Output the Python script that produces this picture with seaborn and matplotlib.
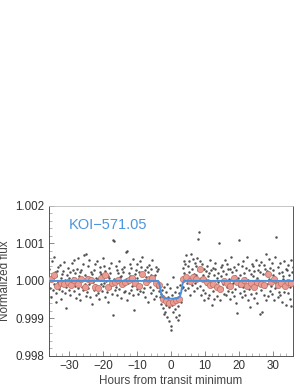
import numpy as np
import pandas as pd
import matplotlib
matplotlib.use("Agg")
import matplotlib.pyplot as plt
import seaborn as sns
from matplotlib.ticker import MultipleLocator, FormatStrFormatter


# folded light curve, hours from transit minimum vs flux deviation (ppm)
gray_hours = [
    -35.9, -35.7, -35.55, -35.4, -35.2, -35.05, -34.85, -34.7, -34.5, -34.35, -34.2, -34.05,
    -33.95, -33.8, -33.6, -33.45, -33.25, -33.1, -32.9, -32.7, -32.55, -32.35, -32.2, -32.05,
    -31.85, -31.7, -31.5, -31.3, -31.15, -31.0, -30.9, -30.75, -30.55, -30.4, -30.2, -30.05,
    -29.85, -29.65, -29.5, -29.3, -29.15, -29.0, -28.9, -28.7, -28.55, -28.4, -28.2, -28.05,
    -27.85, -27.7, -27.5, -27.35, -27.15, -27.0, -26.9, -26.7, -26.55, -26.4, -26.2, -26.05,
    -25.85, -25.7, -25.5, -25.3, -25.15, -25.0, -24.9, -24.75, -24.55, -24.4, -24.2, -24.05,
    -23.9, -23.7, -23.55, -23.35, -23.2, -23.05, -22.85, -22.7, -22.5, -22.35, -22.15, -22.0,
    -21.9, -21.75, -21.55, -21.4, -21.2, -21.05, -20.85, -20.7, -20.5, -20.35, -20.15, -20.0,
    -19.9, -19.7, -19.55, -19.4, -19.2, -19.05, -18.85, -18.7, -18.5, -18.35, -18.15, -18.0,
    -17.9, -17.75, -17.55, -17.4, -17.2, -17.05, -16.85, -16.7, -16.5, -16.35, -16.15, -16.0,
    -15.9, -15.7, -15.55, -15.35, -15.2, -15.05, -14.85, -14.7, -14.5, -14.35, -14.15, -14.0,
    -13.9, -13.75, -13.55, -13.4, -13.2, -13.05, -12.85, -12.7, -12.5, -12.35, -12.15, -12.0,
    -11.9, -11.7, -11.55, -11.35, -11.2, -11.05, -10.85, -10.7, -10.5, -10.35, -10.15, -10.0,
    -9.9, -9.75, -9.55, -9.4, -9.2, -9.05, -8.85, -8.7, -8.5, -8.35, -8.15, -8.0,
    -7.9, -7.7, -7.55, -7.35, -7.2, -7.05, -6.85, -6.7, -6.5, -6.35, -6.15, -6.0,
    -5.9, -5.75, -5.55, -5.4, -5.2, -5.05, -4.85, -4.7, -4.5, -4.35, -4.15, -4.0,
    -3.9, -3.75, -3.55, -3.4, -3.2, -3.05, -2.85, -2.7, -2.5, -2.35, -2.15, -2.0,
    -1.9, -1.75, -1.55, -1.4, -1.2, -1.05, -0.85, -0.7, -0.5, -0.35, -0.15, -0.05,
    0.05, 0.2, 0.35, 0.55, 0.7, 0.9, 1.1, 1.25, 1.45, 1.6, 1.8, 1.95,
    2.1, 2.3, 2.45, 2.6, 2.8, 2.95, 3.1, 3.3, 3.45, 3.65, 3.8, 3.95,
    4.1, 4.25, 4.45, 4.6, 4.8, 4.95, 5.1, 5.3, 5.45, 5.6, 5.8, 5.95,
    6.1, 6.25, 6.45, 6.65, 6.8, 6.95, 7.1, 7.3, 7.45, 7.6, 7.8, 7.95,
    8.1, 8.25, 8.45, 8.6, 8.8, 8.95, 9.1, 9.3, 9.45, 9.65, 9.8, 9.95,
    10.1, 10.25, 10.45, 10.6, 10.8, 10.95, 11.1, 11.3, 11.45, 11.65, 11.8, 11.95,
    12.1, 12.25, 12.45, 12.6, 12.8, 12.95, 13.1, 13.3, 13.45, 13.65, 13.8, 13.95,
    14.1, 14.25, 14.45, 14.6, 14.8, 14.95, 15.1, 15.3, 15.45, 15.65, 15.8, 15.95,
    16.1, 16.25, 16.45, 16.6, 16.8, 16.95, 17.1, 17.3, 17.45, 17.65, 17.8, 17.95,
    18.1, 18.25, 18.45, 18.6, 18.8, 18.95, 19.1, 19.3, 19.45, 19.65, 19.8, 19.95,
    20.1, 20.25, 20.45, 20.6, 20.8, 20.95, 21.1, 21.3, 21.45, 21.65, 21.8, 21.95,
    22.1, 22.25, 22.45, 22.6, 22.8, 22.95, 23.1, 23.3, 23.45, 23.65, 23.8, 23.95,
    24.1, 24.25, 24.45, 24.6, 24.8, 24.95, 25.1, 25.3, 25.45, 25.65, 25.8, 25.95,
    26.1, 26.25, 26.45, 26.6, 26.8, 26.95, 27.1, 27.3, 27.45, 27.65, 27.8, 27.95,
    28.1, 28.25, 28.45, 28.6, 28.8, 28.95, 29.1, 29.3, 29.45, 29.65, 29.8, 29.95,
    30.1, 30.25, 30.45, 30.6, 30.8, 30.95, 31.1, 31.3, 31.45, 31.65, 31.8, 31.95,
    32.1, 32.25, 32.45, 32.6, 32.8, 32.95, 33.1, 33.3, 33.45, 33.65, 33.8, 33.95,
    34.1, 34.25, 34.45, 34.6, 34.8, 34.95, 35.1, 35.3, 35.45, 35.65, 35.8, 35.95,
]
gray_ppm = [
    310, -180, 90, -420, 520, 40, -250, 180, 650, -90, 230, -560,
    120, -330, 260, -40, 380, -210, -150, 420, -480, 70, -260, 190,
    260, -90, 510, -330, 30, -170, -720, 150, -40, 340, -230, 80,
    -380, 240, -110, 470, -60, 300, 90, -270, 560, -140, 210, -450,
    -60, 330, -200, 620, -350, 140, 230, -510, 20, 280, -160, 450,
    -240, 680, -90, 170, -400, 730, 110, -300, 390, -180, 560, -70,
    -430, 60, 250, -610, 180, -20, 300, -250, -120, 440, -380, 90,
    -170, 520, -330, 60, -490, 230, 360, -80, 190, -260, 610, -140,
    -50, 410, -420, 270, -10, 150, -300, 130, -560, 80, 340, -200,
    210, -120, 480, -350, 1100, -900, 1050, 60, -250, 390, -150, 280,
    -380, 220, -40, 530, -210, 100, 140, -460, 320, -90, 250, -300,
    -120, 380, -270, 770, 40, -520, 800, -60, 210, -330, 450, 120,
    -240, 340, -130, 590, -380, 70, -780, 180, -50, 300, -220, 460,
    90, -350, 250, -130, 520, -280, 380, -110, 640, 170, -300, 30,
    -200, 290, -420, 110, 360, -90, 240, -560, 60, 430, -170, 310,
    -330, 150, 560, -240, 20, -480, 170, -80, 380, -410, 260, -150,
    -20, 320, -260, -90, -430, -340, -610, -250, -720, -400, -880, -150,
    -520, -820, -300, -640, -90, -950, -430, -700, -1080, -200, -560, -1300,
    -1200, -380, -640, 100, -820, -470, -290, -750, -510, -960, -160, -1050,
    -680, -330, -900, -450, -120, -560, -200, 80, 350, -150, 520, 200,
    460, -250, 680, 130, -60, 390, -180, 540, 250, -370, 720, 60,
    330, -120, 590, 190, -270, 470, -60, 410, 150, 620, -200, 1120,
    280, 1300, -140, 520, 90, -380, 450, -230, 170, -520, 330, 40,
    -310, 260, -80, 410, -450, 130, 200, -370, 560, -130, 290, -640,
    -90, 350, -280, 150, -470, 480, 310, -160, 90, -400, 220, -30,
    -250, 1020, -520, 130, 380, -180, 420, -70, 260, -340, 570, 10,
    -380, 190, -150, 460, -270, 320, 60, -490, 330, -100, 650, -300,
    240, -60, -400, 380, 130, -210, -590, 280, -850, 90, 450, -140,
    1100, -320, 170, -60, 390, -440, -170, 520, -260, 210, -380, 80,
    350, -130, 640, -500, 30, 280, -220, -700, 190, -350, 460, -80,
    140, 390, -460, 260, -190, 560, -330, 80, -600, 300, -120, 420,
    -880, 250, -240, 510, -50, -830, 190, -370, 420, -150, 310, -520,
    720, -90, 260, -410, 580, 40, -260, 340, -130, 470, -360, 150,
    280, -520, 90, -200, 640, -60, 1180, -140, 360, -430, 210, -290,
    -380, 470, -60, 250, -560, 130, 40, -290, 530, -160, 320, -640,
    300, -80, 420, -310, 150, -490, -170, 560, -680, 240, -30, 380,
]

# one-hour bins
bin_hours = [
    -35.5, -34.5, -33.5, -32.5, -31.5, -30.5, -29.5, -28.5, -27.5, -26.5, -25.5, -24.5,
    -23.5, -22.5, -21.5, -20.5, -19.5, -18.5, -17.5, -16.5, -15.5, -14.5, -13.5, -12.5,
    -11.5, -10.5, -9.5, -8.5, -7.5, -6.5, -5.5, -4.5, -3.5, -2.5, -1.5, -0.5,
    0.5, 1.5, 2.5, 3.5, 4.5, 5.5, 6.5, 7.5, 8.5, 9.5, 10.5, 11.5,
    12.5, 13.5, 14.5, 15.5, 16.5, 17.5, 18.5, 19.5, 20.5, 21.5, 22.5, 23.5,
    24.5, 25.5, 26.5, 27.5, 28.5, 29.5, 30.5, 31.5, 32.5, 33.5, 34.5, 35.5,
]
bin_ppm = [
    40, 150, -130, -60, -90, -40, -110, 30, -70, 60, -150, 60,
    20, -160, -190, 90, 150, -170, -60, -40, 30, -80, -30, 20,
    70, -60, -140, 190, -20, 40, 80, -60, -110, -480, -540, -580,
    -570, -520, -470, 60, 100, -10, 110, 40, 330, 60, -40, -110,
    -70, -150, -210, 10, -60, -140, 70, -30, -90, 30, -130, -60,
    -170, -20, -90, -120, 190, -40, 50, -110, -60, -140, -30, -60,
]

# transit model
model_hours = [-36, -3.8, -3.4, -3.0, -2.6, -2.0, -1.0, 0, 1.0, 2.0, 2.6, 3.0, 3.4, 3.8, 36]
model_ppm = [0, 0, -80, -300, -420, -455, -470, -475, -470, -455, -420, -300, -80, 0, 0]

raw = pd.DataFrame({"hours": gray_hours, "flux": 1 + np.array(gray_ppm) * 1e-6})
binned = pd.DataFrame({"hours": bin_hours, "flux": 1 + np.array(bin_ppm) * 1e-6})
model = pd.DataFrame({"hours": model_hours, "flux": 1 + np.array(model_ppm) * 1e-6})

sns.set_style("white")
plt.rcParams["font.family"] = ["Liberation Sans", "DejaVu Sans"]

fig = plt.figure(figsize=(3.0, 3.88), dpi=100)
ax = fig.add_axes([0.163, 0.0825, 0.814, 0.387])

sns.scatterplot(data=raw, x="hours", y="flux", ax=ax, s=3.2, color="#505050",
                linewidth=0, zorder=2)
sns.scatterplot(data=binned, x="hours", y="flux", ax=ax, s=20, color="#eb9c92",
                edgecolor="#bd6e63", linewidth=0.5, zorder=3)
sns.lineplot(data=model, x="hours", y="flux", ax=ax, color="#4a90dc", lw=1.4,
             sort=False, zorder=4)

ax.text(-30, 1.0015, "KOI\u2212571.05", color="#4a96e0", fontsize=10.5,
        ha="left", va="center")

ax.set_xlim(-36, 36)
ax.set_ylim(0.998, 1.002)
ax.xaxis.set_major_locator(MultipleLocator(10))
ax.xaxis.set_minor_locator(MultipleLocator(2))
ax.yaxis.set_major_locator(MultipleLocator(0.001))
ax.yaxis.set_minor_locator(MultipleLocator(0.0002))
ax.yaxis.set_major_formatter(FormatStrFormatter("%.3f"))
ax.tick_params(which="major", direction="in", length=3.5, width=0.6, color="#777",
               labelsize=8.4, labelcolor="#333", pad=3,
               left=True, bottom=True)
ax.tick_params(which="minor", direction="in", length=2, width=0.5, color="#999",
               left=True, bottom=True)

ax.set_xlabel("Hours from transit minimum", fontsize=8.4, color="#444", labelpad=2)
ax.set_ylabel("Normalized flux", fontsize=8.4, color="#444", labelpad=3)

for side in ["left", "bottom", "right"]:
    ax.spines[side].set_color("#555")
    ax.spines[side].set_linewidth(0.7)
ax.spines["top"].set_color("#bbb")
ax.spines["top"].set_linewidth(0.6)

fig.savefig("out.png", dpi=100)
